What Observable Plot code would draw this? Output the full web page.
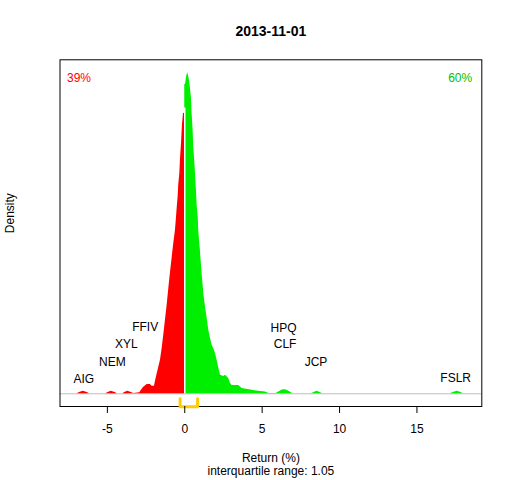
<!DOCTYPE html>
<html>
<head>
<meta charset="utf-8">
<script src="https://cdn.jsdelivr.net/npm/d3@7"></script>
<script src="https://cdn.jsdelivr.net/npm/@observablehq/plot@0.6"></script>
<style>
  html, body { margin: 0; padding: 0; background: #fff; }
</style>
</head>
<body>
<div id="chart"></div>
<script>
// Negative-return side of the density (red)
const leftX = [-6.95, -6.8, -6.56, -6.3, -6.15, -5.1, -4.95, -4.75, -4.5, -4.35, -4.0, -3.88, -3.68, -3.45, -3.3,
  -2.91, -2.80, -2.67, -2.43, -2.22, -2.11, -1.96, -1.83, -1.68, -1.57, -1.46, -1.36, -1.25, -1.14, -1.03,
  -0.92, -0.81, -0.71, -0.60, -0.54, -0.49, -0.43, -0.39, -0.32, -0.28, -0.21, -0.15, -0.08, -0.02, 0];
const leftD = [0, 0.004, 0.007, 0.004, 0, 0, 0.004, 0.007, 0.004, 0, 0, 0.004, 0.007, 0.004, 0.001,
  0.003, 0.010, 0.018, 0.027, 0.027, 0.022, 0.022, 0.048, 0.076, 0.096, 0.130, 0.167, 0.210, 0.253, 0.302,
  0.349, 0.392, 0.431, 0.469, 0.503, 0.532, 0.564, 0.598, 0.632, 0.670, 0.718, 0.770, 0.804, 0.805, 0.805];

// Positive-return side of the density (green)
const rightX = [0, 0.05, 0.11, 0.18, 0.24, 0.30, 0.37, 0.43, 0.48, 0.54, 0.58, 0.65, 0.71, 0.76, 0.80, 0.87,
  0.90, 1.01, 1.12, 1.23, 1.34, 1.45, 1.55, 1.66, 1.77, 1.87, 1.98, 2.09, 2.20, 2.31, 2.52, 2.63, 2.84, 2.95,
  3.06, 3.49, 3.71, 4.35, 5.21, 5.45, 5.9, 6.1, 6.3, 6.45, 6.6, 6.8, 7.0, 8.2, 8.35, 8.55, 8.75, 8.9,
  17.15, 17.35, 17.6, 17.85, 18.0];
const rightD = [0.887, 0.887, 0.906, 0.921, 0.914, 0.899, 0.876, 0.848, 0.799, 0.756, 0.708, 0.665, 0.618, 0.579, 0.540, 0.507,
  0.469, 0.411, 0.345, 0.288, 0.249, 0.216, 0.182, 0.159, 0.139, 0.130, 0.116, 0.096, 0.073, 0.053, 0.050, 0.053, 0.044, 0.030,
  0.024, 0.024, 0.015, 0.010, 0.005, 0.001, 0.001, 0.006, 0.011, 0.012, 0.010, 0.005, 0, 0, 0.004, 0.007, 0.004, 0,
  0, 0.004, 0.007, 0.004, 0];

// Outlier ticker labels
const tickers = ["AIG", "NEM", "XYL", "FFIV", "HPQ", "CLF", "JCP", "FSLR"];
const tickerX = [-6.52, -4.68, -3.78, -2.56, 6.38, 6.48, 8.48, 17.5];
const tickerLevel = [0.043, 0.091, 0.141, 0.191, 0.188, 0.141, 0.091, 0.045];

// Interquartile range
const q1 = -0.3, q3 = 0.83;
const iqrText = "interquartile range: 1.05";
const pctNeg = "39%", pctPos = "60%";
const title = "2013-11-01";
const xTicks = [-5, 0, 5, 10, 15];

const leftData = leftX.map((x, i) => ({x, d: leftD[i]}));
const rightData = rightX.map((x, i) => ({x, d: rightD[i]}));
const labelData = tickers.map((t, i) => ({t, x: tickerX[i], y: tickerLevel[i]}));
const yMin = -0.0364, yMax = 0.958;
const bracket = [{x: q1, y: -0.0143}, {x: q1, y: -0.037}, {x: q3, y: -0.037}, {x: q3, y: -0.0143}];

const RED = "#ff0000", GREEN = "#00ee00";

const chart = Plot.plot({
  width: 512,
  height: 480,
  marginLeft: 59.5,
  marginRight: 30.7,
  marginTop: 59.3,
  marginBottom: 74,
  style: {fontFamily: "Liberation Sans, Arial, sans-serif", fontSize: "12px", background: "#fff"},
  x: {domain: [-8.06, 19.19]},
  y: {domain: [yMin, yMax], axis: null},
  marks: [
    Plot.ruleY([0], {stroke: "#bebebe", strokeWidth: 1}),
    Plot.areaY(leftData, {x: "x", y: "d", fill: RED, curve: "linear"}),
    Plot.areaY(rightData, {x: "x", y: "d", fill: GREEN, curve: "linear"}),
    Plot.ruleX([0], {y1: 0, y2: 0.82, stroke: "#fff", strokeWidth: 1.5}),
    Plot.text(labelData, {x: "x", y: "y", text: "t", fill: "#000", fontSize: 12}),
    Plot.frame({stroke: "#000", strokeWidth: 1}),
    Plot.line(bracket, {x: "x", y: "y", stroke: "#ffcc00", strokeWidth: 3, strokeLinecap: "round"}),
    Plot.axisX({ticks: xTicks, tickFormat: d => String(d), tickSize: 7, tickPadding: 11, fontSize: 12, label: null, stroke: "#000"}),
    Plot.text([pctNeg], {text: d => d, frameAnchor: "top-left", dx: 7, dy: 18, lineAnchor: "middle", fill: RED, fontSize: 12}),
    Plot.text([pctPos], {text: d => d, frameAnchor: "top-right", dx: -9.6, dy: 18, lineAnchor: "middle", fill: "#00c000", fontSize: 12}),
    Plot.text([title], {text: d => d, frameAnchor: "top", dy: -28, lineAnchor: "middle", fontWeight: "bold", fontSize: 14, fill: "#000"}),
    Plot.text(["Density"], {text: d => d, frameAnchor: "left", dx: -49.5, rotate: -90, lineAnchor: "middle", fontSize: 12, fill: "#000"}),
    Plot.text(["Return (%)"], {text: d => d, frameAnchor: "bottom", dy: 51.3, lineAnchor: "middle", fontSize: 12, fill: "#000"}),
    Plot.text([iqrText], {text: d => d, frameAnchor: "bottom", dy: 64.7, lineAnchor: "middle", fontSize: 12, fill: "#000"})
  ]
});
document.getElementById("chart").appendChild(chart);
</script>
</body>
</html>
